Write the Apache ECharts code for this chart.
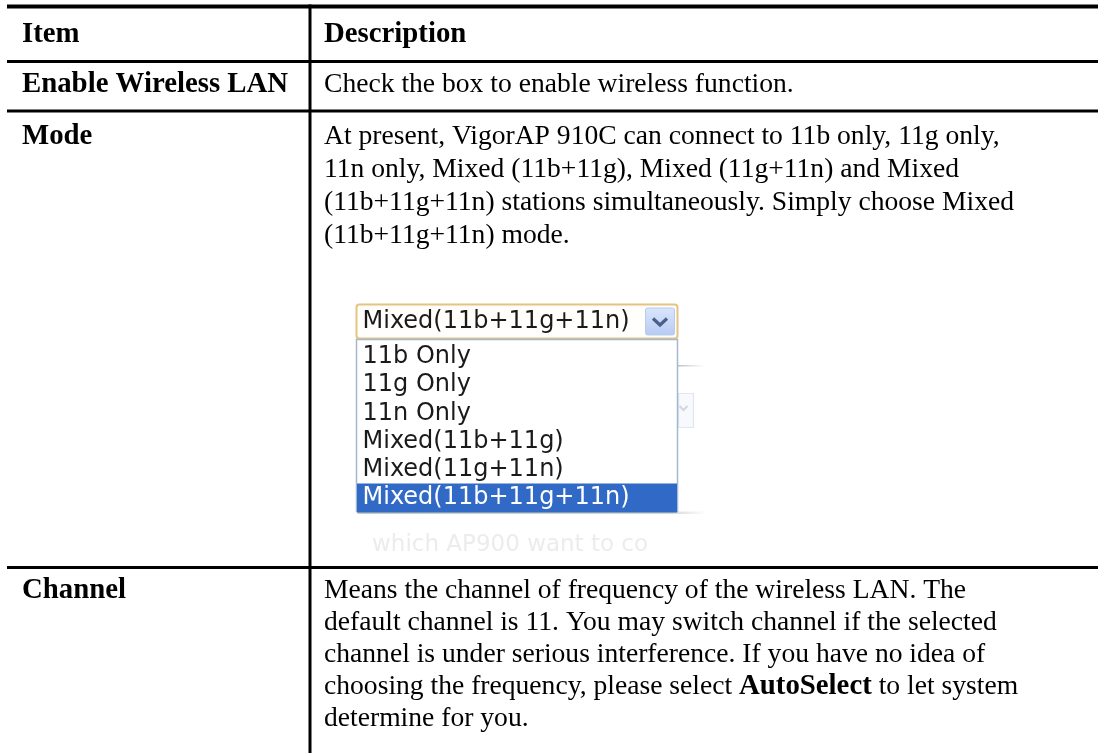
<!DOCTYPE html>
<html>
<head>
<meta charset="utf-8">
<script src="https://cdn.jsdelivr.net/npm/echarts@6/dist/echarts.min.js"></script>
<style>
html,body{margin:0;padding:0;background:#ffffff;}
#c{width:1098px;height:753px;}
</style>
</head>
<body>
<div id="c"></div>
<script>
// ---- content ----
const headers = ['Item', 'Description'];
const items = ['Enable Wireless LAN', 'Mode', 'Channel'];
const enableDesc = ['Check the box to enable wireless function.'];
const modeDesc = [
  'At present, VigorAP 910C can connect to 11b only, 11g only,',
  '11n only, Mixed (11b+11g), Mixed (11g+11n) and Mixed',
  '(11b+11g+11n) stations simultaneously. Simply choose Mixed',
  '(11b+11g+11n) mode.'
];
const channelDesc = [
  'Means the channel of frequency of the wireless LAN. The',
  'default channel is 11. You may switch channel if the selected',
  'channel is under serious interference. If you have no idea of',
  'choosing the frequency, please select {b|AutoSelect} to let system',
  'determine for you.'
];
const modeOptions = ['11b Only', '11g Only', '11n Only', 'Mixed(11b+11g)', 'Mixed(11g+11n)', 'Mixed(11b+11g+11n)'];
const selectedMode = 'Mixed(11b+11g+11n)';
const ghostCaption = 'which AP900 want to co';

// ---- layout / style ----
const W = 1098, H = 753;
const SERIF = '"Liberation Serif", "Times New Roman", serif';
const SANS = '"DejaVu Sans", Verdana, sans-serif';
const regFont = '27.6px ' + SERIF;
const boldFont = 'bold 28.8px ' + SERIF;
const ddFont = '24px ' + SANS;
const colItemX = 22, colDescX = 324, divX = 310;
const tableLeft = 7;

const g = [];
function hline(y, h) {
  g.push({ type: 'rect', silent: true, shape: { x: tableLeft, y: y, width: W - tableLeft, height: h }, style: { fill: '#000' } });
}
function txt(x, y, s, font, fill, extra) {
  const st = { text: s, x: x, y: y, font: font, fill: fill || '#000', align: 'left', verticalAlign: 'middle' };
  if (extra) Object.assign(st, extra);
  g.push({ type: 'text', silent: true, style: st });
}

// table rules
hline(4.5, 4);
hline(60, 3);
hline(109.5, 3);
hline(566, 3);
g.push({ type: 'rect', silent: true, shape: { x: divX - 1.5, y: 4.5, width: 3, height: H - 4.5 }, style: { fill: '#000' } });

// header
txt(colItemX, 35, headers[0], boldFont);
txt(colDescX, 35, headers[1], boldFont);

// rows
const rowY = [85, 137, 591];
const rowDesc = [enableDesc, modeDesc, channelDesc];
const rowLH = [33, 33, 32];
items.forEach(function (it, i) {
  txt(colItemX, rowY[i], it, boldFont);
  rowDesc[i].forEach(function (line, j) {
    txt(colDescX, rowY[i] + j * rowLH[i], line, regFont, '#000', {
      rich: { b: { font: boldFont, fill: '#000' } }
    });
  });
});

// ---- dropdown screenshot ----
const ddX = 356.5, ddW = 321;
const selY = 304.5, selH = 34;
const listY = selY + selH + 1, optH = 28.2, optY0 = 357;
const listH = 172;

// ghost background elements of the screenshot
g.push({ type: 'rect', silent: true, shape: { x: ddX + ddW, y: 365, width: 28, height: 1.5 },
  style: { fill: new echarts.graphic.LinearGradient(0, 0, 1, 0, [{ offset: 0, color: '#bdbdbd' }, { offset: 1, color: 'rgba(200,200,200,0)' }]) } });
g.push({ type: 'rect', silent: true, shape: { x: ddX + ddW + 1, y: 393.5, width: 15, height: 34 },
  style: { fill: '#f7f9fc', stroke: '#e1e7f0', lineWidth: 1.2 } });
g.push({ type: 'polyline', silent: true, shape: { points: [[ddX + ddW + 2, 406], [ddX + ddW + 6, 410], [ddX + ddW + 10, 406]] },
  style: { stroke: '#d0d6e2', lineWidth: 2, fill: null } });
g.push({ type: 'rect', silent: true, shape: { x: ddX + 1, y: listY + listH, width: ddW + 28, height: 2.5 },
  style: { fill: new echarts.graphic.LinearGradient(0, 0, 1, 0, [{ offset: 0, color: '#c9c9c9' }, { offset: 0.9, color: '#d6d6d6' }, { offset: 1, color: 'rgba(220,220,220,0)' }]) } });
txt(372, 545, ghostCaption, '23px ' + SANS, '#ececec');

// select box
g.push({ type: 'rect', silent: true, shape: { x: ddX, y: selY, width: ddW, height: selH, r: 3 },
  style: { fill: '#fffefb', stroke: '#e5c384', lineWidth: 2 } });
g.push({ type: 'rect', silent: true, shape: { x: ddX + ddW - 32, y: selY + 3.5, width: 29, height: 27, r: 2 },
  style: { fill: new echarts.graphic.LinearGradient(0, 0, 0, 1, [{ offset: 0, color: '#dbe6fc' }, { offset: 1, color: '#b6caf2' }]), stroke: '#b9cbee', lineWidth: 1 } });
g.push({ type: 'polyline', silent: true,
  shape: { points: [[ddX + ddW - 24.5, selY + 14], [ddX + ddW - 17.5, selY + 20.5], [ddX + ddW - 10.5, selY + 14]] },
  style: { stroke: '#4b5f8c', lineWidth: 3.2, fill: null } });
txt(ddX + 6, selY + selH / 2 + 0.5, selectedMode, ddFont, '#1a1a1a');

// option list
g.push({ type: 'rect', silent: true, shape: { x: ddX, y: listY, width: ddW, height: listH },
  style: { fill: '#ffffff', stroke: '#a4b8d0', lineWidth: 1.5 } });
modeOptions.forEach(function (o, i) {
  const cy = optY0 + i * optH;
  const sel = o === selectedMode;
  if (sel) {
    g.push({ type: 'rect', silent: true, shape: { x: ddX + 0.5, y: cy - 14.5, width: ddW - 1, height: 29 },
      style: { fill: '#3169c6' } });
  }
  txt(ddX + 6, cy, o, ddFont, sel ? '#ffffff' : '#1a1a1a');
});

const chart = echarts.init(document.getElementById('c'), null, { renderer: 'canvas', width: W, height: H });
chart.setOption({ animation: false, backgroundColor: '#ffffff', graphic: { elements: g } });
</script>
</body>
</html>
